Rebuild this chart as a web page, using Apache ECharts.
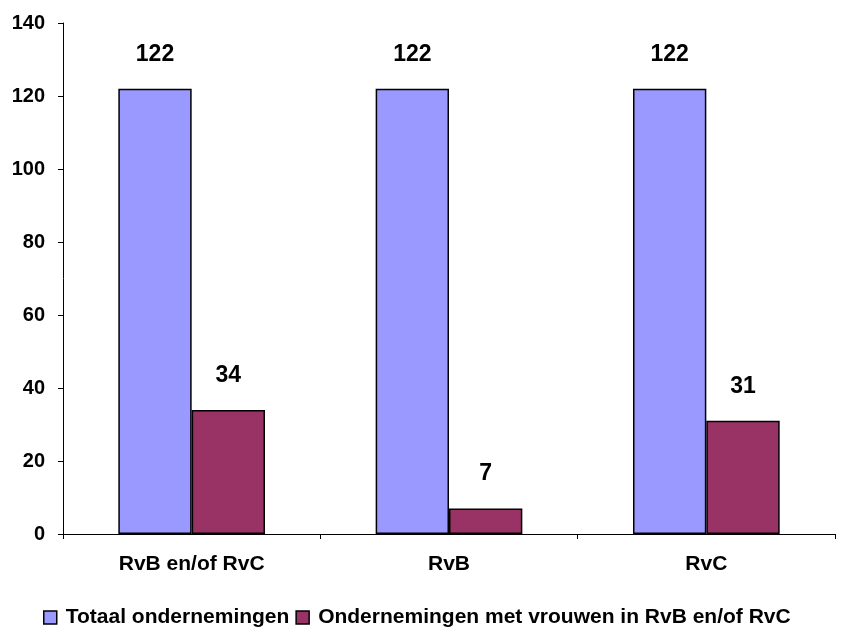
<!DOCTYPE html>
<html>
<head>
<meta charset="utf-8">
<script src="https://cdn.jsdelivr.net/npm/echarts@6/dist/echarts.min.js"></script>
<style>
  html, body { margin: 0; padding: 0; background: #fff; }
  #chart { width: 858px; height: 629px; }
</style>
</head>
<body>
<div id="chart"></div>
<script>
// Board composition: total companies vs companies with women on the boards
const categories = ['RvB en/of RvC', 'RvB', 'RvC'];
const totaalOndernemingen = [122, 122, 122];
const metVrouwen = [34, 7, 31];
const seriesNames = ['Totaal ondernemingen', 'Ondernemingen met vrouwen in RvB en/of RvC'];
const yTicks = { min: 0, max: 140, interval: 20 };

const font = 'Liberation Sans, Arial, sans-serif';

const chart = echarts.init(document.getElementById('chart'), null, { renderer: 'canvas' });

const labelStyle = {
  show: true,
  position: 'top',
  distance: 23,
  fontFamily: font,
  fontWeight: 'bold',
  fontSize: 23,
  color: '#000'
};

chart.setOption({
  animation: false,
  backgroundColor: '#fff',
  grid: { left: 63, right: 23, top: 23, bottom: 95, containLabel: false },
  legend: {
    top: 602,
    left: 38,
    itemWidth: 13,
    itemHeight: 13,
    itemGap: 6,
    icon: 'rect',
    textStyle: { fontFamily: font, fontWeight: 'bold', fontSize: 21, color: '#000', padding: [0, 0, 0, 4] },
    data: seriesNames.map(n => ({ name: n, itemStyle: { borderColor: '#000', borderWidth: 1.5 } }))
  },
  xAxis: {
    type: 'category',
    data: categories,
    axisLine: { lineStyle: { color: '#000', width: 1 } },
    axisTick: { show: true, alignWithLabel: false, length: 5, lineStyle: { color: '#000' } },
    axisLabel: { fontFamily: font, fontWeight: 'bold', fontSize: 21, color: '#000', margin: 20 }
  },
  yAxis: {
    type: 'value',
    min: yTicks.min,
    max: yTicks.max,
    interval: yTicks.interval,
    axisLine: { show: true, lineStyle: { color: '#000', width: 1 } },
    axisTick: { show: true, length: 5, lineStyle: { color: '#000' } },
    splitLine: { show: false },
    axisLabel: { fontFamily: font, fontWeight: 'bold', fontSize: 20, color: '#000', margin: 18 }
  },
  series: [
    {
      name: seriesNames[0],
      type: 'bar',
      data: totaalOndernemingen,
      barGap: '0%',
      barCategoryGap: '43%',
      itemStyle: { color: '#9999FF', borderColor: '#000', borderWidth: 1.5 },
      label: labelStyle
    },
    {
      name: seriesNames[1],
      type: 'bar',
      data: metVrouwen,
      itemStyle: { color: '#993366', borderColor: '#000', borderWidth: 1.5 },
      label: labelStyle
    }
  ]
});
</script>
</body>
</html>
